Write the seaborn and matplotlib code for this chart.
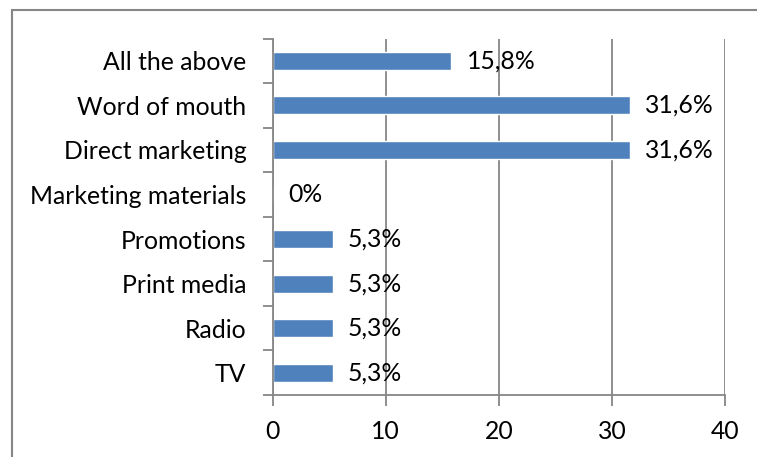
import matplotlib
matplotlib.use("Agg")
import matplotlib.pyplot as plt
from matplotlib.patches import Rectangle
from matplotlib.ticker import FixedLocator
import seaborn as sns
import pandas as pd

categories = ["All the above", "Word of mouth", "Direct marketing", "Marketing materials",
              "Promotions", "Print media", "Radio", "TV"]
shares = [15.8, 31.6, 31.6, 0.0, 5.3, 5.3, 5.3, 5.3]
x_ticks = [0, 10, 20, 30, 40]

df = pd.DataFrame({"channel": categories, "share": shares})

sns.set_theme(style="white")
plt.rcParams["font.family"] = ["Lato", "DejaVu Sans"]

W, H = 757, 457
fig = plt.figure(figsize=(W / 100, H / 100), dpi=100)
ax = fig.add_axes([272.7 / W, 1 - 395 / H, (725 - 272.7) / W, (395 - 38.5) / H])

bar_color = "#4F81BD"
grid_color = "#868686"
fs = 17.8

sns.barplot(data=df, x="share", y="channel", orient="h", color=bar_color,
            width=0.4, saturation=1, ax=ax, zorder=3)

def fmt(v):
    return "0%" if v == 0 else f"{v:.1f}".replace(".", ",") + "%"

ax.bar_label(ax.containers[0], labels=[fmt(v) for v in shares], padding=11,
             fontsize=fs, color="black")

ax.set_xlim(0, 40)
ax.set_ylim(len(categories) - 0.5, -0.5)
ax.set_xlabel("")
ax.set_ylabel("")

ax.xaxis.set_major_locator(FixedLocator(x_ticks))
ax.set_xticklabels([str(t) for t in x_ticks])
ax.grid(axis="x", color=grid_color, linewidth=1.3, zorder=0)
ax.grid(axis="y", visible=False)

ax.yaxis.set_minor_locator(FixedLocator([i - 0.5 for i in range(len(categories) + 1)]))
ax.tick_params(axis="y", which="major", length=0, pad=19, labelsize=fs, labelcolor="black")
ax.tick_params(axis="y", which="minor", left=True, length=7, width=1.3, color=grid_color)
ax.tick_params(axis="x", which="major", bottom=True, length=8, width=1.3, color=grid_color,
               pad=10, labelsize=fs, labelcolor="black")

for side in ("top", "right"):
    ax.spines[side].set_visible(False)
for side in ("left", "bottom"):
    ax.spines[side].set_color(grid_color)
    ax.spines[side].set_linewidth(1.3)
    ax.spines[side].set_zorder(4)

# chart frame, open to the right and bottom edges
fig.add_artist(Rectangle((11.5 / W, -0.5), 2.0, 1.5 - 9.5 / H, transform=fig.transFigure,
                         fill=False, edgecolor=grid_color, linewidth=1.5))

fig.savefig("out.png", dpi=100, facecolor="white")
